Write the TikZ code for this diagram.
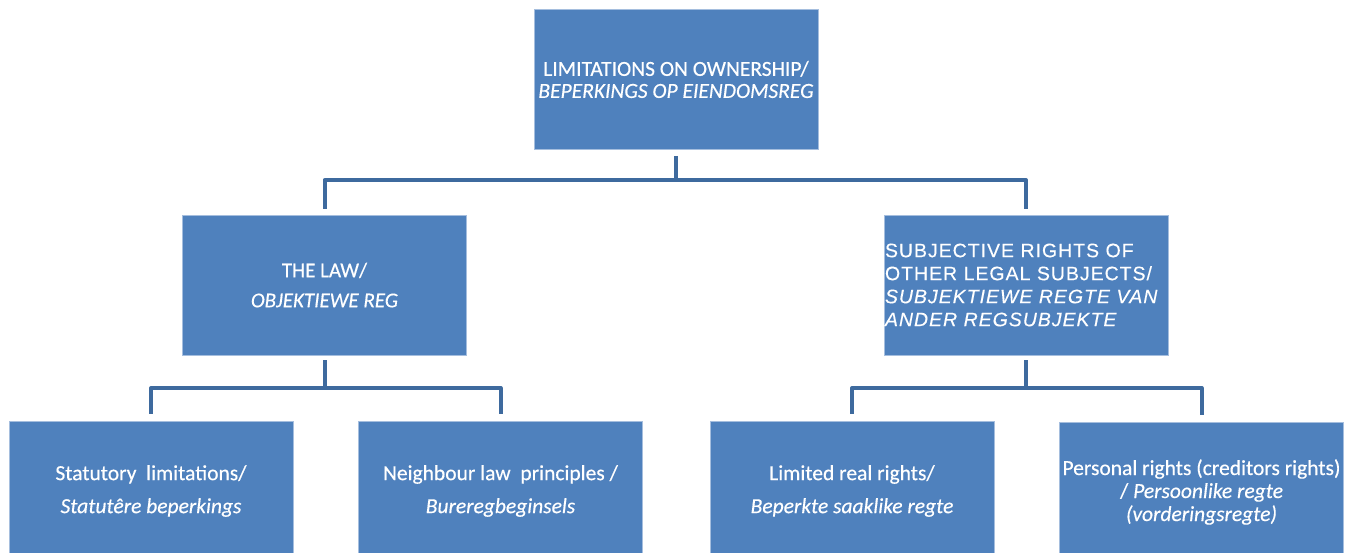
\documentclass[tikz,border=0pt]{standalone}
\usepackage{fontspec}
\setmainfont{Carlito}[FakeBold=0.35]
\newfontfamily\arialish{Liberation Sans}[LetterSpace=5,FakeBold=0.25]
\definecolor{boxblue}{HTML}{4F81BD}
\definecolor{linkblue}{RGB}{62,106,158}
\definecolor{edgeblue}{RGB}{165,190,222}
\begin{document}
\begin{tikzpicture}[x=1pt,y=-1pt,
  box/.style={draw=edgeblue,line width=0.8pt,fill=boxblue,text=white,
    minimum width=284pt,minimum height=140pt,inner sep=1pt,align=center,
    font=\fontsize{21.5}{23}\selectfont},
  conn/.style={draw=linkblue,line width=4pt,line join=round}]
\useasboundingbox (0,0) rectangle (1355,553);
\clip (0,0) rectangle (1355,553);
\node[box,font=\fontsize{21.5}{22}\selectfont] (top) at (676,79.5) {LIMITATIONS ON OWNERSHIP/\\\textit{BEPERKINGS OP EIENDOMSREG}};
\node[box,font=\fontsize{21}{22}\selectfont] (law) at (324.5,285) {THE LAW/\\[8pt]\textit{OBJEKTIEWE REG}};
\node[box,align=left,text width=282pt,font=\arialish\fontsize{19.5}{23}\selectfont] (subj) at (1026,285)
  {SUBJECTIVE RIGHTS OF\\OTHER LEGAL SUBJECTS/\\\textit{SUBJEKTIEWE REGTE VAN}\\\textit{ANDER REGSUBJEKTE}};
\node[box] (stat) at (151,491) {Statutory\ \ limitations/\\[10pt]\textit{Statut\^ere beperkings}};
\node[box] (neigh) at (500.5,491) {Neighbour law\ \ principles /\\[10pt]\textit{Bureregbeginsels}};
\node[box] (real) at (852,491) {Limited real rights/\\[10pt]\textit{Beperkte saaklike regte}};
\node[box] (pers) at (1201.5,492) {Personal rights (creditors rights)\\/ \textit{Persoonlike regte}\\\textit{(vorderingsregte)}};
% connectors
\coordinate (barT) at (676,180);
\coordinate (barL) at (324.5,388);
\coordinate (barR) at (1026,388);
\draw[conn] ([yshift=-6pt]top.south) -- (barT);
\draw[conn] ([yshift=6pt]law.north) |- (barT) -| ([yshift=6pt]subj.north);
\draw[conn] ([yshift=-5pt]law.south) -- (barL);
\draw[conn] ([yshift=7pt]stat.north) |- (barL) -| ([yshift=7pt]neigh.north);
\draw[conn] ([yshift=-5pt]subj.south) -- (barR);
\draw[conn] ([yshift=7pt]real.north) |- (barR) -| ([yshift=7pt]pers.north);
\end{tikzpicture}
\end{document}
